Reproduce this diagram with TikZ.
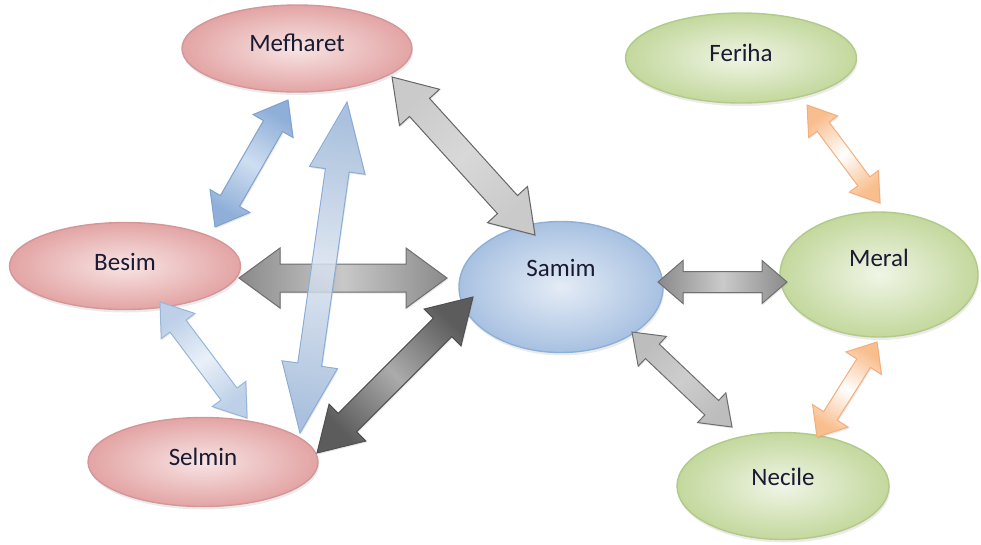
\documentclass[tikz,border=0pt]{standalone}
\usepackage{fontspec}
\setmainfont{Carlito}
\usetikzlibrary{calc,shapes.geometric,shadows}

% ellipse colours
\definecolor{txt}{HTML}{1A1A32}
\definecolor{pinkline}{HTML}{D49696}
\definecolor{pinkin}{HTML}{F8E4E4}
\definecolor{pinkout}{HTML}{E3A4A4}
\definecolor{blueline}{HTML}{8DB0DA}
\definecolor{bluein}{HTML}{E4ECF6}
\definecolor{blueout}{HTML}{A8C1E1}
\definecolor{greenline}{HTML}{B2CA88}
\definecolor{greenin}{HTML}{F0F5E6}
\definecolor{greenout}{HTML}{C3D89D}

% link colours
\definecolor{gAline}{HTML}{666666}\definecolor{gAend}{HTML}{CACACA}\definecolor{gAmid}{HTML}{D8D8D8}
\definecolor{gBline}{HTML}{6E6E6E}\definecolor{gBend}{HTML}{8A8A8A}\definecolor{gBmid}{HTML}{C8C8C8}
\definecolor{gCline}{HTML}{4F4F4F}\definecolor{gCend}{HTML}{5C5C5C}\definecolor{gCmid}{HTML}{ABABAB}
\definecolor{gDline}{HTML}{707070}\definecolor{gDend}{HTML}{8A8A8A}\definecolor{gDmid}{HTML}{CACACA}
\definecolor{gEline}{HTML}{6E6E6E}\definecolor{gEend}{HTML}{BDBDBD}\definecolor{gEmid}{HTML}{CDCDCD}
\definecolor{bAline}{HTML}{7FA2CF}\definecolor{bAend}{HTML}{8FAFD8}\definecolor{bAmid}{HTML}{CFDEF1}
\definecolor{bBline}{HTML}{8AADD8}\definecolor{bBend}{HTML}{9BB7DB}\definecolor{bBmid}{HTML}{DCE6F3}
\definecolor{bCline}{HTML}{98B6DC}\definecolor{bCend}{HTML}{BDD0E8}\definecolor{bCmid}{HTML}{E9F0F8}
\definecolor{oline}{HTML}{F4AE7C}\definecolor{oend}{HTML}{F9BE8E}\definecolor{omid}{HTML}{FFFFFF}

% double arrow between two points given relative to two nodes
% #1 style, #2 node A, #3 offset from A, #4 node B, #5 offset from B,
% #6 half shaft width, #7 half head width, #8 head length
\newcommand{\twoway}[8]{%
  \coordinate (tA) at ($(#2)+(#3)$);
  \coordinate (tB) at ($(#4)+(#5)$);
  \path[#1] (tA)
    -- ($(tA)!#8pt!(tB)!#7pt!90:(tB)$)
    -- ($(tA)!#8pt!(tB)!#6pt!90:(tB)$)
    -- ($(tB)!#8pt!(tA)!#6pt!-90:(tA)$)
    -- ($(tB)!#8pt!(tA)!#7pt!-90:(tA)$)
    -- (tB)
    -- ($(tB)!#8pt!(tA)!#7pt!90:(tA)$)
    -- ($(tB)!#8pt!(tA)!#6pt!90:(tA)$)
    -- ($(tA)!#8pt!(tB)!#6pt!-90:(tB)$)
    -- ($(tA)!#8pt!(tB)!#7pt!-90:(tB)$)
    -- cycle;
}

\tikzset{
  person/.style={ellipse, inner sep=0pt, line width=1.4pt,
    font=\fontsize{25}{30}\selectfont, text=txt,
    drop shadow={opacity=0.16, shadow xshift=1pt, shadow yshift=-3pt}},
  pinkp/.style={person, draw=pinkline, inner color=pinkin, outer color=pinkout},
  bluep/.style={person, draw=blueline, inner color=bluein, outer color=blueout},
  greenp/.style={person, draw=greenline, inner color=greenin, outer color=greenout},
  link/.style={line width=1pt, line join=miter,
    drop shadow={opacity=0.18, shadow xshift=1pt, shadow yshift=-1.5pt}},
  % link colours: #1 prefix of colour names, #2 shading angle
  linkcol/.style 2 args={link, draw=#1line, left color=#1end, right color=#1end,
    middle color=#1mid, shading angle=#2},
}

\begin{document}
\begin{tikzpicture}[x=1pt, y=-1pt]
  \useasboundingbox (0,0) rectangle (981,544);

  % people
  \node[pinkp, minimum width=230pt, minimum height=87pt] (mef) at (297,48.5) {\raisebox{11pt}{Mefharet}};
  \node[pinkp, minimum width=231pt, minimum height=87pt] (bes) at (125,266) {\raisebox{8pt}{Besim}};
  \node[pinkp, minimum width=230pt, minimum height=89pt] (sel) at (203,462) {\raisebox{10pt}{Selmin}};
  \node[bluep, minimum width=204pt, minimum height=131pt] (sam) at (561,287) {\raisebox{38pt}{Samim}};
  \node[greenp, minimum width=231pt, minimum height=90pt] (fer) at (741,58) {\raisebox{10pt}{Feriha}};
  \node[greenp, minimum width=198pt, minimum height=125pt] (mer) at (879,274.5) {\raisebox{34pt}{Meral}};
  \node[greenp, minimum width=212pt, minimum height=107pt] (nec) at (783,486) {\raisebox{18pt}{Necile}};

  % grey links to Samim
  \twoway{linkcol={gA}{42}}{mef}{95,28.5}{sam}{-26,-52}{13.5}{27}{41}
  \twoway{linkcol={gB}{90}}{bes}{114,12}{sam}{-114,-9}{14}{30}{41}
  \twoway{linkcol={gC}{135}}{sel}{114,-9}{sam}{-88,10}{13}{26}{43}
  \twoway{linkcol={gD}{90}}{sam}{97,-5}{mer}{-92,7.5}{10.5}{21.5}{25}
  \twoway{linkcol={gE}{46.5}}{sam}{71,45}{nec}{-51,-59}{10}{20.5}{28}

  % blue links among Mefharet, Besim and Selmin
  \twoway{linkcol={bA}{-29.9}}{mef}{-9,51.5}{bes}{90,-39}{11}{23}{30}
  \twoway{linkcol={bB}{-8.4}, fill opacity=0.8}{mef}{50,53.5}{sel}{97,-29}{12}{28}{69}
  \twoway{linkcol={bC}{37.1}}{bes}{35,36}{sel}{44,-44}{10}{21}{30}

  % orange links to Meral
  \twoway{linkcol={o}{36.7}}{fer}{66,47}{mer}{1,-71.5}{7.5}{18}{27}
  \twoway{linkcol={o}{-32.3}}{mer}{-2,67.5}{nec}{34,-49}{8}{21}{25}
\end{tikzpicture}
\end{document}
